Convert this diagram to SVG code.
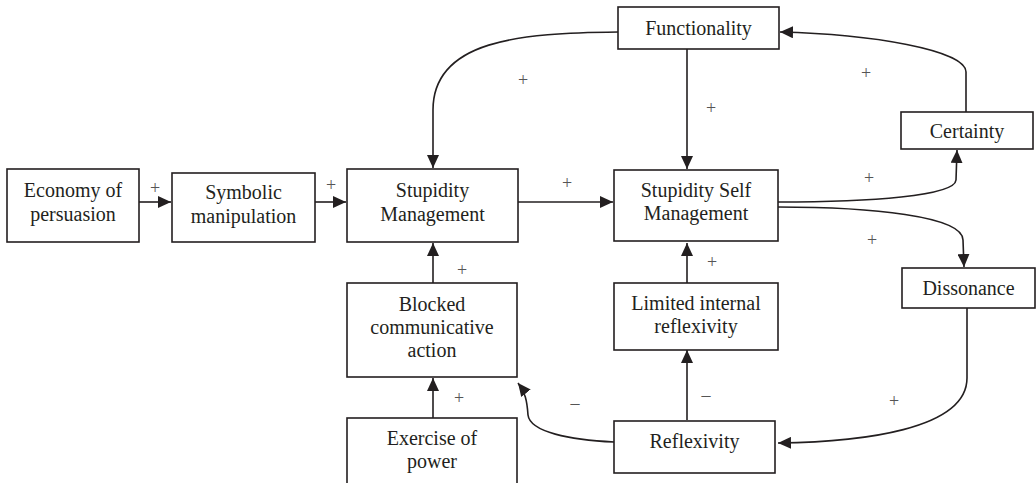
<svg xmlns="http://www.w3.org/2000/svg" width="1036" height="483" viewBox="0 0 1036 483">
<style>
.box{fill:#fff;stroke:#231f20;stroke-width:1.6}
.lbl{font-family:"Liberation Serif","Times New Roman",serif;font-size:20px;fill:#231f20;text-anchor:middle}
.sign{font-family:"Liberation Serif","Times New Roman",serif;font-size:18px;fill:#555;text-anchor:middle}
.edge{fill:none;stroke:#231f20;stroke-width:1.6}
</style>
<defs>
<marker id="arr" markerWidth="14" markerHeight="12" refX="13" refY="6" orient="auto" markerUnits="userSpaceOnUse">
<path d="M0,0 L13,6 L0,12 Z" fill="#231f20"/>
</marker>
</defs>
<rect width="1036" height="483" fill="#fff"/>
<g id="connectors">
<path class="edge" d="M139,202 L171,202" marker-end="url(#arr)"/>
<path class="edge" d="M315,202 L346,202" marker-end="url(#arr)"/>
<path class="edge" d="M518,202 L613,202" marker-end="url(#arr)"/>
<path class="edge" d="M618,32 C520,33 433,40 433,110 L433,168" marker-end="url(#arr)"/>
<path class="edge" d="M687,49 L687,169" marker-end="url(#arr)"/>
<path class="edge" d="M966,112 L966,72 C966,50 870,34 780,32" marker-end="url(#arr)"/>
<path class="edge" d="M778,202 C870,202 955,196 956,180 L957,150" marker-end="url(#arr)"/>
<path class="edge" d="M778,207 C870,207 963,216 963,240 L964,267" marker-end="url(#arr)"/>
<path class="edge" d="M967,308 L967,378 C967,430 860,442 778,443" marker-end="url(#arr)"/>
<path class="edge" d="M687,420 L687,350" marker-end="url(#arr)"/>
<path class="edge" d="M614,442 C570,440 530,432 528,415 C527,400 525,392 518,383" marker-end="url(#arr)"/>
<path class="edge" d="M687,283 L687,243" marker-end="url(#arr)"/>
<path class="edge" d="M433,283 L433,243" marker-end="url(#arr)"/>
<path class="edge" d="M433,418 L433,378" marker-end="url(#arr)"/>
<text class="sign" x="155" y="194">+</text>
<text class="sign" x="331" y="191">+</text>
<text class="sign" x="567" y="189">+</text>
<text class="sign" x="523" y="86">+</text>
<text class="sign" x="711" y="114">+</text>
<text class="sign" x="866" y="79">+</text>
<text class="sign" x="869" y="184">+</text>
<text class="sign" x="872" y="246">+</text>
<text class="sign" x="894" y="407">+</text>
<text class="sign" x="712" y="268">+</text>
<text class="sign" x="462" y="276">+</text>
<text class="sign" x="459" y="404">+</text>
<text class="sign" x="706" y="401">–</text>
<text class="sign" x="575" y="409">–</text>
</g>
<g id="economy">
<rect class="box" x="7" y="169" width="132" height="73"/>
<text class="lbl" x="73" y="197">Economy of</text>
<text class="lbl" x="73" y="221">persuasion</text>
</g>
<g id="symbolic">
<rect class="box" x="172" y="173" width="143" height="69"/>
<text class="lbl" x="243.5" y="199">Symbolic</text>
<text class="lbl" x="243.5" y="223">manipulation</text>
</g>
<g id="stupidity-management">
<rect class="box" x="347" y="169" width="171" height="73"/>
<text class="lbl" x="432.5" y="197">Stupidity</text>
<text class="lbl" x="432.5" y="221">Management</text>
</g>
<g id="stupidity-self-management">
<rect class="box" x="614" y="170" width="164" height="71"/>
<text class="lbl" x="696" y="197">Stupidity Self</text>
<text class="lbl" x="696" y="220">Management</text>
</g>
<g id="functionality">
<rect class="box" x="618" y="7" width="161" height="42"/>
<text class="lbl" x="698.5" y="35">Functionality</text>
</g>
<g id="certainty">
<rect class="box" x="901" y="112" width="132" height="37"/>
<text class="lbl" x="967" y="138">Certainty</text>
</g>
<g id="dissonance">
<rect class="box" x="902" y="268" width="133" height="40"/>
<text class="lbl" x="968.5" y="295">Dissonance</text>
</g>
<g id="blocked">
<rect class="box" x="347" y="283" width="170" height="94"/>
<text class="lbl" x="432" y="311">Blocked</text>
<text class="lbl" x="432" y="334">communicative</text>
<text class="lbl" x="432" y="357">action</text>
</g>
<g id="exercise">
<rect class="box" x="347" y="418" width="170" height="70"/>
<text class="lbl" x="432" y="445">Exercise of</text>
<text class="lbl" x="432" y="468">power</text>
</g>
<g id="limited">
<rect class="box" x="614" y="283" width="164" height="67"/>
<text class="lbl" x="696" y="310">Limited internal</text>
<text class="lbl" x="696" y="333">reflexivity</text>
</g>
<g id="reflexivity">
<rect class="box" x="614" y="421" width="161" height="52"/>
<text class="lbl" x="694.5" y="448">Reflexivity</text>
</g>
</svg>
